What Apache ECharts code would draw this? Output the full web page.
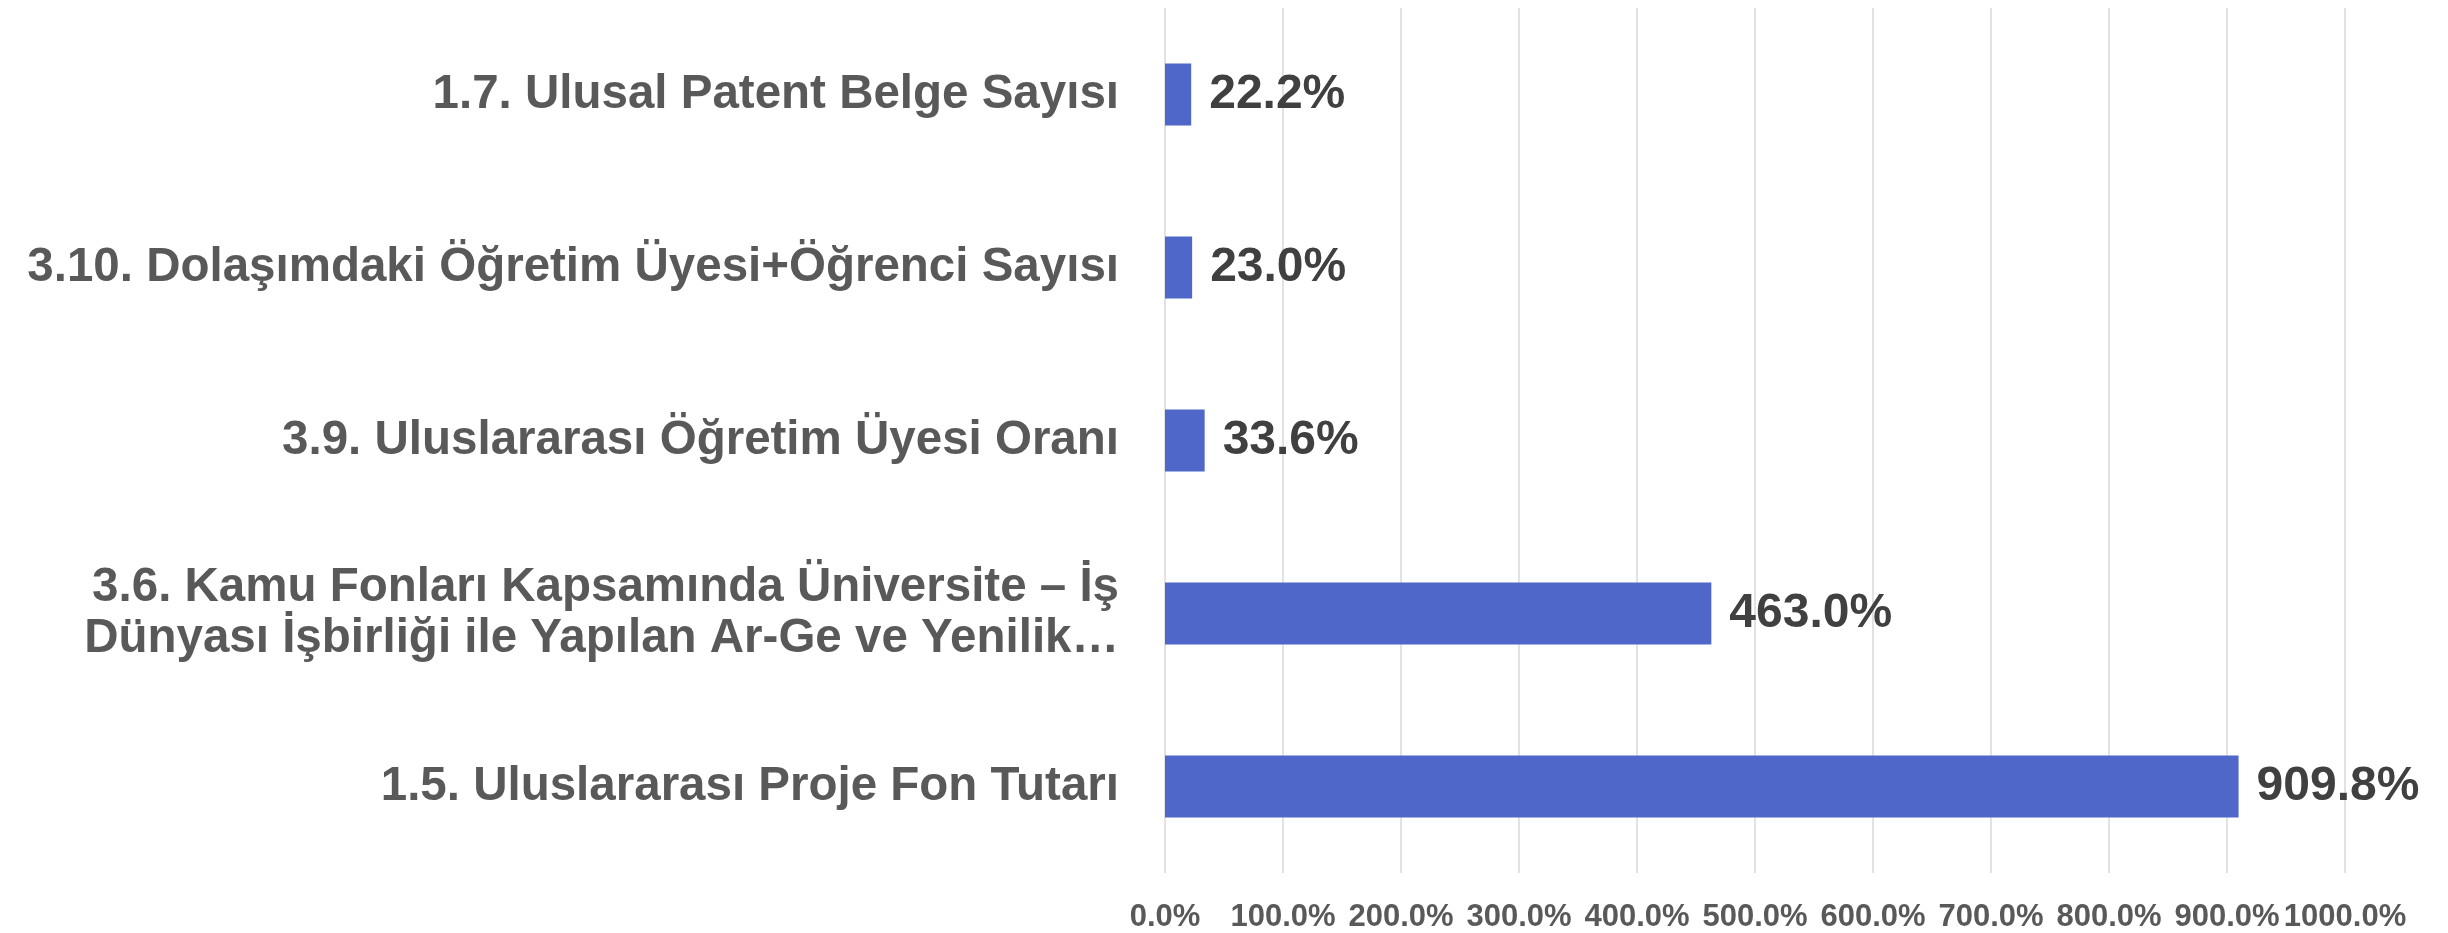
<!DOCTYPE html>
<html>
<head>
<meta charset="utf-8">
<script src="https://cdn.jsdelivr.net/npm/echarts@6/dist/echarts.min.js"></script>
<style>
html,body{margin:0;padding:0;background:#fff;}
#chart{width:2448px;height:933px;}
</style>
</head>
<body>
<div id="chart"></div>
<script>
// categories bottom -> top (echarts category y axis grows upward)
var categories = [
  '1.5. Uluslararası Proje Fon Tutarı',
  '3.6. Kamu Fonları Kapsamında Üniversite – İş\nDünyası İşbirliği ile Yapılan Ar-Ge ve Yenilik…',
  '3.9. Uluslararası Öğretim Üyesi Oranı',
  '3.10. Dolaşımdaki Öğretim Üyesi+Öğrenci Sayısı',
  '1.7. Ulusal Patent Belge Sayısı'
];
var values = [909.8, 463.0, 33.6, 23.0, 22.2];
var axisMin = 0, axisMax = 1000, axisStep = 100;

var chart = echarts.init(document.getElementById('chart'));
chart.setOption({
  animation: false,
  grid: {left: 1165, right: 103, top: 8, bottom: 59},
  xAxis: {
    type: 'value',
    min: axisMin, max: axisMax, interval: axisStep,
    axisLine: {show: false},
    axisTick: {show: false},
    splitLine: {lineStyle: {color: '#d9d9d9', width: 1.5}},
    axisLabel: {
      color: '#595959', fontWeight: 'bold', fontSize: 31,
      fontFamily: 'Liberation Sans', margin: 29,
      formatter: function (v) { return v.toFixed(1) + '%'; }
    }
  },
  yAxis: {
    type: 'category',
    data: categories,
    axisLine: {show: false},
    axisTick: {show: false},
    axisLabel: {
      color: '#595959', fontWeight: 'bold', fontSize: 47.5,
      fontFamily: 'Liberation Sans', margin: 46, lineHeight: 51, align: 'right'
    }
  },
  series: [{
    type: 'bar',
    data: values,
    barWidth: 62,
    itemStyle: {color: '#4f67c8'},
    label: {
      show: true, position: 'right', distance: 18,
      color: '#404040', fontWeight: 'bold', fontSize: 48,
      fontFamily: 'Liberation Sans',
      formatter: function (p) { return p.value.toFixed(1) + '%'; }
    }
  }]
});
</script>
</body>
</html>
